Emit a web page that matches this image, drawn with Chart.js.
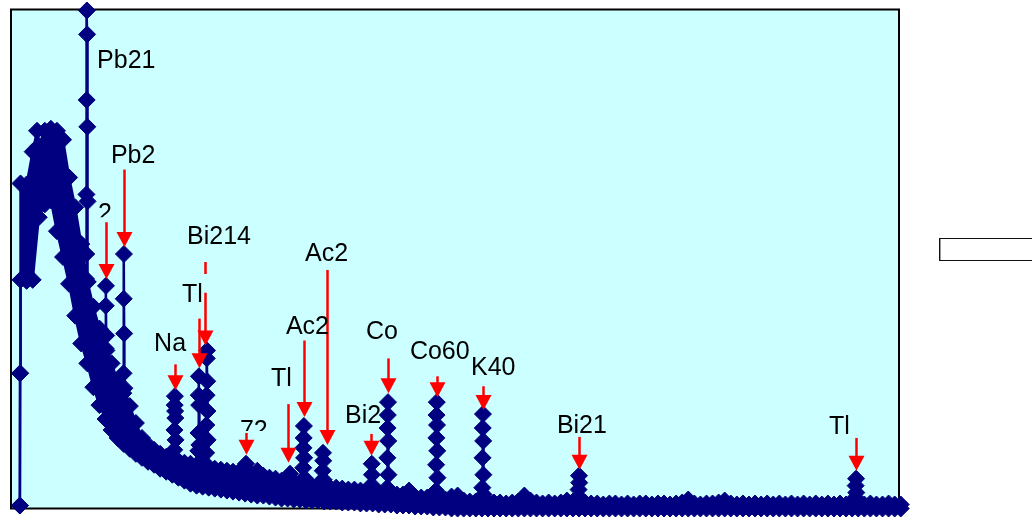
<!DOCTYPE html>
<html>
<head>
<meta charset="utf-8">
<script src="https://cdn.jsdelivr.net/npm/chart.js@4/dist/chart.umd.min.js"></script>
<style>
  html, body { margin: 0; padding: 0; background: #fff; overflow: hidden; }
  #wrap { position: relative; width: 1032px; height: 518px; overflow: hidden; }
  #legendBox { position: absolute; left: 939px; top: 238px; width: 120px; height: 21px;
               border: 1px solid #111; box-shadow: inset 1px 0 0 #999; background: #fff; }
</style>
</head>
<body>
<div id="wrap">
  <canvas id="c" width="1032" height="518"></canvas>
  <div id="legendBox"></div>
</div>
<script>
// ---- Spectrum data (channel axis 0..4096, counts) ----
// continuum sampled on regular channel grid: upper and lower edge of the noisy band
const highCounts = [1635,1630,1795,1825,1900,1910,1900,1855,1665,1515,
  1330,1155,1015,905,825,730,640,575,515,430,
  355,320,295,275,260,250,240,230,225,220,
  215,210,200,195,190,185,185,175,175,190,
  165,155,150,140,150,135,125,120,115,115,
  110,105,105,100,95,95,90,90,85,80,
  80,75,70,70,90,60,55,55,50,45,
  45,60,65,40,35,35,30,30,30,30,
  25,30,35,65,40,30,25,30,25,30,
  40,35,30,30,25,25,20,25,25,20,
  25,20,25,25,20,25,25,20,25,30,
  45,25,20,25,25,30,40,25,20,25,
  20,25,20,25,20,25,20,25,20,25,
  20,25,20,25,20,25,20,25,20,20,
  25,20,20,25,20,20];
const lowCounts = [1150,1145,1150,1465,1530,1550,1395,1265,1130,970,
  830,730,610,520,450,395,355,325,300,275,
  255,235,220,200,185,170,155,140,125,115,
  110,105,100,95,90,85,80,75,70,65,
  65,60,55,50,50,45,45,40,40,40,
  35,35,35,30,30,30,25,25,25,20,
  20,20,15,15,15,10,10,10,5,5,
  5,0,0,0,0,0,0,0,0,0,
  0,0,0,0,0,0,0,0,0,0,
  0,0,0,0,0,0,0,0,0,0,
  0,0,0,0,0,0,0,0,0,0,
  0,0,0,0,0,0,0,0,0,0,
  0,0,0,0,0,0,0,0,0,0,
  0,0,0,0,0,0,0,0,0,0,
  0,0,0,0,0,0];
const gridChannels = highCounts.map((_, i) => 44 + 28 * i);

// individual channels in the photopeaks (and first channels)
const peakChannels = [41,42,120,
  346,347,348,349,350,351,352,353,354,
  436,437,438,439,440,
  518,519,520,521,522,523,
  753,754,755,756,757,758,759,
  864,865,866,867,868,869,
  900,901,902,903,904,905,906,907,
  1082,1084,1086,
  1287,
  1348,1349,1350,1351,1352,1353,
  1437,1438,1439,1440,1442,
  1663,1664,1665,1666,
  1735,1736,1737,1738,1739,1740,1741,1742,
  1960,1961,1962,1963,1964,1965,1966,1967,1968,
  2174,2175,2176,2177,2178,2179,2180,
  2618,2620,2621,2623,
  3895,3896,3898,3899,3901];
const peakCounts = [15,680,1900,
  1155,1280,1580,2055,2505,2385,1920,1545,1140,
  805,1020,1120,870,795,
  580,680,1055,1280,880,605,
  295,395,520,565,490,455,345,
  290,380,570,665,520,320,
  280,420,570,755,795,640,490,345,
  195,225,195,
  175,
  205,305,355,415,255,155,
  145,190,280,240,145,
  120,225,170,110,
  105,255,405,470,535,340,170,95,
  90,220,355,470,535,420,290,155,75,
  105,255,405,475,340,170,70,
  95,165,130,55,
  55,115,150,80,40];

// ---- Peak annotations (data coordinates) ----
const annotText      = ['Pb21','Pb2','2','Bi214','Tl','Na','72','Tl','Ac2','Ac2','Bi2','Co','Co60','K40','Bi21','Tl'];
const annotTextCh    = [397, 461, 401, 812, 789, 660, 1056, 1199, 1268, 1356, 1541, 1637, 1840, 2122, 2518, 3773];
const annotTextCount = [2215, 1740, 1445, 1330, 1040, 790, 355, 615, 880, 1245, 430, 855, 750, 670, 380, 375];
const annotClipCount = [null, null, 1465, null, null, null, 390, null, null, null, null, null, null, null, null, null];
const arrowCh        = [null, 521, 438, 895, 867, 757, 1084, 1278, 1351, 1458, 1661, 1739, 1965, 2177, 2620, 3898];
const arrowFrom      = [null, 1705, 1440, 1240, 955, 725, 380, 525, 845, 1200, 375, 755, 665, 615, 360, 355];
const arrowTo        = [null, 1315, 1155, 820, 705, 595, 270, 230, 460, 320, 265, 580, 560, 495, 195, 190];
const arrowGap       = [null, null, null, [1180, 1085], null, null, null, null, null, null, null, null, null, null, null, null];

// ---- build point lists ----
function merge(chs, vals, pch, pvals) {
  const m = new Map();
  chs.forEach((c, i) => m.set(c, vals[i]));
  pch.forEach((c, i) => m.set(c, pvals[i]));
  return [...m.keys()].sort((a, b) => a - b).map(c => ({x: c, y: m.get(c)}));
}
const upperPts = merge(gridChannels, highCounts, peakChannels, peakCounts);
const lowerPts = merge(gridChannels, lowCounts, peakChannels.slice(0, 2), peakCounts.slice(0, 2));

const NAVY = '#000080';
const decor = {
  id: 'decor',
  beforeDraw(chart) {
    const {ctx, chartArea: a} = chart;
    ctx.save();
    ctx.fillStyle = '#CCFFFF';
    ctx.fillRect(a.left, a.top, a.right - a.left, a.bottom - a.top);
    ctx.strokeStyle = '#000';
    ctx.lineWidth = 2;
    ctx.strokeRect(a.left, a.top, a.right - a.left, a.bottom - a.top);
    ctx.restore();
  },
  afterDraw(chart) {
    const {ctx} = chart;
    const xs = chart.scales.x, ys = chart.scales.y;
    ctx.save();
    ctx.strokeStyle = '#FF0000';
    ctx.fillStyle = '#FF0000';
    ctx.lineWidth = 2.5;
    for (let i = 0; i < annotText.length; i++) {
      if (arrowCh[i] === null) continue;
      const ax = Math.round(xs.getPixelForValue(arrowCh[i])) + 0.5;
      const y0 = ys.getPixelForValue(arrowFrom[i]);
      const y1 = ys.getPixelForValue(arrowTo[i]);
      const head = 15, hw = 8;
      ctx.beginPath();
      if (arrowGap[i]) {
        const g0 = ys.getPixelForValue(arrowGap[i][0]);
        const g1 = ys.getPixelForValue(arrowGap[i][1]);
        ctx.moveTo(ax, y0); ctx.lineTo(ax, g0);
        ctx.moveTo(ax, g1); ctx.lineTo(ax, y1 - head + 1);
      } else {
        ctx.moveTo(ax, y0); ctx.lineTo(ax, y1 - head + 1);
      }
      ctx.stroke();
      ctx.beginPath();
      ctx.moveTo(ax - hw, y1 - head);
      ctx.lineTo(ax + hw, y1 - head);
      ctx.lineTo(ax, y1);
      ctx.closePath();
      ctx.fill();
    }
    ctx.fillStyle = '#000';
    ctx.font = '25px "Liberation Sans", Arial, sans-serif';
    ctx.textBaseline = 'alphabetic';
    ctx.textAlign = 'left';
    for (let i = 0; i < annotText.length; i++) {
      const tx = xs.getPixelForValue(annotTextCh[i]);
      const ty = ys.getPixelForValue(annotTextCount[i]);
      ctx.save();
      if (annotClipCount[i] !== null) {
        const cy = ys.getPixelForValue(annotClipCount[i]);
        ctx.beginPath();
        ctx.rect(0, 0, chart.width, cy);
        ctx.clip();
      }
      ctx.fillText(annotText[i], tx, ty);
      ctx.restore();
    }
    ctx.restore();
  }
};

const commonDs = {
  borderColor: NAVY,
  backgroundColor: NAVY,
  borderWidth: 2.5,
  pointStyle: 'rectRot',
  pointRadius: 8.5,
  pointBorderWidth: 1,
  pointBackgroundColor: NAVY,
  pointBorderColor: NAVY,
  tension: 0,
  clip: false
};

new Chart(document.getElementById('c'), {
  type: 'line',
  data: {
    datasets: [
      Object.assign({label: '', data: upperPts, fill: '+1'}, commonDs),
      Object.assign({label: '', data: lowerPts, fill: false}, commonDs)
    ]
  },
  options: {
    responsive: false,
    animation: false,
    devicePixelRatio: 1,
    events: [],
    layout: { padding: { left: 11, top: 9, right: 133, bottom: 7 } },
    scales: {
      x: { type: 'linear', min: 0, max: 4096, display: false },
      y: { type: 'linear', min: 0, max: 2510, display: false }
    },
    plugins: {
      legend: { display: false },
      tooltip: { enabled: false }
    }
  },
  plugins: [decor]
});
</script>
</body>
</html>
